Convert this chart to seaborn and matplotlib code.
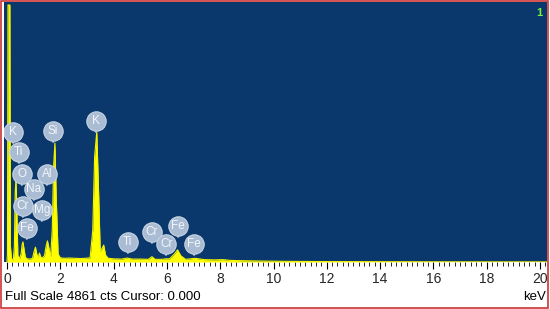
import numpy as np
import pandas as pd
import matplotlib
matplotlib.use("Agg")
import matplotlib.pyplot as plt
import seaborn as sns
from matplotlib.patches import Rectangle
from matplotlib.ticker import MultipleLocator

# spectrum outline (keV, counts)
spec_kev = [0.00, 0.02, 0.04, 0.06, 0.09, 0.11, 0.13, 0.17, 0.24, 0.28, 0.31, 0.34,
            0.37, 0.41, 0.47, 0.53, 0.57, 0.60, 0.64, 0.69, 0.76, 0.86, 0.96, 1.02,
            1.07, 1.12, 1.17, 1.22, 1.27, 1.33, 1.41, 1.47, 1.52, 1.58, 1.64, 1.70,
            1.75, 1.80, 1.85, 1.92, 2.00, 2.15, 2.35, 2.55, 2.75, 2.95, 3.12, 3.22,
            3.29, 3.37, 3.44, 3.50, 3.56, 3.63, 3.70, 3.80, 4.00, 4.30, 4.51, 4.70,
            5.00, 5.30, 5.44, 5.56, 5.80, 5.95, 6.10, 6.28, 6.40, 6.52, 6.70, 7.06,
            7.40, 7.80, 8.10, 8.40, 8.80, 9.50, 10.5, 12.0, 14.0, 16.0, 18.0, 20.3]
spec_cts = [0, 150, 4861, 4861, 4861, 4861, 300, 60, 40, 300, 1300, 1590,
            1000, 120, 60, 150, 330, 380, 250, 90, 60, 55, 70, 200,
            280, 150, 80, 170, 90, 80, 120, 300, 400, 250, 100, 600,
            1800, 2250, 1200, 150, 80, 70, 75, 70, 65, 70, 80, 600,
            2000, 2460, 1300, 200, 250, 320, 130, 70, 60, 55, 75, 55,
            55, 50, 100, 50, 50, 60, 60, 150, 230, 120, 50, 70,
            45, 40, 45, 30, 25, 18, 12, 8, 6, 4, 3, 2]

# element marker labels: line energy and label height in counts
label_names = ["K", "Ti", "O", "Cr", "Fe", "Na", "Mg", "Al", "Si", "K",
               "Ti", "Cr", "Cr", "Fe", "Fe"]
label_kev = [0.23, 0.45, 0.56, 0.60, 0.75, 1.01, 1.31, 1.50, 1.73, 3.34,
             4.54, 5.44, 5.97, 6.42, 7.02]
label_cts = [2458, 2080, 1664, 1059, 643, 1380, 983, 1664, 2477, 2666,
             378, 567, 340, 681, 340]

tick_vals = list(range(0, 21, 2))
full_scale = 4861

df = pd.DataFrame({"keV": spec_kev, "cts": spec_cts})

sns.set_style("white")
plt.rcParams['font.family'] = ['Liberation Sans', 'DejaVu Sans']

fig = plt.figure(figsize=(5.5, 3.09), dpi=100)
ax = fig.add_axes([4 / 550, 47 / 309, 543 / 550, 260 / 309])
ax.set_facecolor("#0a386c")

ax.fill_between(df["keV"], df["cts"], color="#ffff00", lw=0)
sns.lineplot(data=df, x="keV", y="cts", ax=ax, color="#f4f400", lw=0.8)

# element labels: circle, stem and text
for name, kx, cy in zip(label_names, label_kev, label_cts):
    ax.annotate("", xy=(kx, cy), xytext=(0, -10), textcoords="offset points",
                arrowprops=dict(arrowstyle="-", color="#b4c4d8", lw=1.2))
    ax.scatter([kx], [cy], s=195, color="#a9bcd3", edgecolor="#c8d4e2",
               linewidth=0.8, zorder=5)
    ax.text(kx, cy, name, ha="center", va="center", color="#f2f5f9",
            fontsize=8.5, zorder=6)

ax.set_xlim(-0.11, 20.26)
ax.set_ylim(0, full_scale * 260 / 257)
ax.set_xticks(tick_vals)
ax.set_xticklabels([str(v) for v in tick_vals])
ax.xaxis.set_minor_locator(MultipleLocator(0.2))
ax.tick_params(axis="x", which="major", direction="out", length=5, width=0.8,
               color="black", labelsize=10, pad=2, bottom=True)
ax.tick_params(axis="x", which="minor", direction="out", length=3, width=0.6,
               color="black", bottom=True)
ax.set_yticks([])
ax.set_xlabel("")
ax.set_ylabel("")
for sp in ax.spines.values():
    sp.set_visible(False)

ax.text(0.992, 0.975, "1", transform=ax.transAxes, ha="right", va="top",
        color="#7cf23c", fontsize=8, fontweight="bold")

fig.text(5 / 550, 1 - 297 / 309, "Full Scale %d cts Cursor: 0.000" % full_scale,
         ha="left", va="center", fontsize=9.5, color="black")
fig.text(546 / 550, 1 - 297 / 309, "keV", ha="right", va="center",
         fontsize=9.5, color="black")

fig.patches.append(Rectangle((0.002, 0.003), 0.995, 0.994, transform=fig.transFigure,
                             fill=False, edgecolor="#cc3333", lw=1.2))

fig.savefig("out.png", dpi=100)
